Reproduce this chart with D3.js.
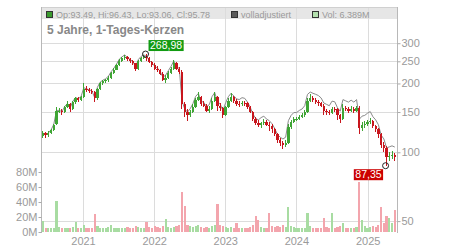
<!DOCTYPE html>
<html>
<head>
<meta charset="utf-8">
<script src="https://cdn.jsdelivr.net/npm/d3@7"></script>
<style>
  body { margin: 0; background: #fff; }
  svg { display: block; font-family: "Liberation Sans", Arial, sans-serif; }
</style>
</head>
<body>
<div id="chart"></div>
<script>
// time span of the chart (5 years)
const START = new Date(2020, 5, 2);
const END = new Date(2025, 5, 3);
const PERIOD_DAYS = 14;

// one candle per two weeks: [open, high, low, close]
const candles = [
  [118, 124, 115, 121], [121, 123, 116, 119], [119, 124, 117, 121], [121, 127, 120, 125], [125, 133, 124, 132],
  [133, 157, 131, 152], [152, 156, 148, 152], [152, 154, 145, 150], [150, 160, 148, 158], [158, 167, 156, 163],
  [163, 165, 150, 155], [155, 168, 153, 166], [166, 175, 163, 172], [172, 174, 166, 170], [170, 177, 168, 174],
  [174, 201, 172, 190], [190, 195, 183, 188], [188, 192, 181, 186], [186, 190, 179, 184], [184, 186, 166, 172],
  [172, 192, 170, 190], [190, 203, 188, 200], [200, 207, 197, 204], [204, 210, 200, 207], [207, 215, 203, 212],
  [212, 225, 210, 222], [222, 234, 220, 230], [230, 244, 228, 240], [240, 256, 238, 252], [252, 261, 248, 258],
  [258, 266, 254, 262], [262, 264, 252, 255], [255, 258, 246, 250], [250, 253, 241, 245], [245, 247, 226, 232],
  [232, 253, 230, 250], [250, 261, 248, 258], [258, 266, 255, 262], [262, 268.98, 252, 258], [258, 260, 245, 248],
  [248, 251, 236, 240], [240, 245, 228, 232], [232, 238, 224, 228], [228, 232, 217, 220], [220, 224, 206, 208],
  [208, 217, 200, 212], [212, 226, 209, 222], [222, 236, 220, 232], [232, 254, 230, 245], [245, 248, 230, 232],
  [232, 236, 221, 225], [225, 228, 154, 162], [162, 166, 143, 150], [150, 154, 137, 145], [145, 153, 143, 150],
  [150, 162, 148, 158], [158, 172, 156, 170], [170, 184, 168, 175], [175, 177, 160, 162], [162, 168, 158, 160],
  [160, 162, 150, 152], [152, 160, 148, 155], [155, 172, 153, 168], [168, 184, 166, 175], [175, 176, 152, 160],
  [160, 164, 152, 156], [156, 158, 141, 146], [146, 160, 144, 158], [158, 172, 156, 168], [168, 182, 166, 174],
  [174, 176, 164, 168], [168, 171, 160, 163], [163, 168, 158, 162], [162, 168, 159, 165], [165, 168, 160, 164],
  [164, 166, 155, 158], [158, 160, 148, 150], [150, 152, 137, 140], [140, 142, 131, 134], [134, 138, 129, 132],
  [132, 136, 128, 134], [134, 140, 132, 136], [136, 139, 130, 132], [132, 136, 124, 130], [130, 133, 122, 126],
  [126, 128, 118, 120], [120, 122, 110, 113], [113, 115, 106, 110], [110, 112, 103, 108], [108, 113, 105, 110],
  [110, 133, 109, 129], [129, 139, 127, 136], [136, 143, 134, 140], [140, 143, 137, 140], [140, 146, 138, 143],
  [143, 149, 141, 145], [145, 153, 143, 150], [150, 172, 149, 168], [168, 180, 166, 172], [172, 177, 166, 170],
  [170, 173, 163, 166], [166, 169, 160, 164], [164, 166, 157, 160], [160, 162, 145, 152], [152, 155, 146, 150],
  [150, 153, 145, 148], [148, 158, 147, 155], [155, 158, 150, 154], [154, 156, 138, 145], [145, 147, 134, 140],
  [140, 162, 139, 156], [156, 159, 151, 154], [154, 157, 148, 152], [152, 160, 150, 155], [155, 158, 149, 152],
  [152, 160, 150, 156], [156, 160, 120, 128], [128, 135, 124, 132], [132, 137, 128, 133], [133, 139, 130, 136],
  [136, 141, 133, 137], [137, 139, 128, 130], [130, 132, 123, 126], [126, 128, 116, 120], [120, 122, 104, 108],
  [108, 111, 100, 104], [104, 106, 87.35, 95], [95, 100, 92, 96], [96, 101, 93, 97], [97, 99, 92, 95.78]
];

// "volladjustiert" close, same periods
const adjusted = [
  121.4, 119.4, 121.4, 125.4, 132.4, 152.5, 152.5, 150.5, 158.5, 163.5,
  156.2, 167.3, 173.4, 171.4, 175.4, 191.5, 189.5, 187.5, 185.5, 173.4,
  192.5, 202.6, 206.7, 209.7, 214.8, 224.9, 233.0, 243.1, 255.3, 261.4,
  266.7, 259.6, 254.5, 249.4, 236.2, 254.5, 262.6, 266.7, 262.6, 252.5,
  246.0, 237.8, 233.7, 225.5, 213.2, 217.3, 227.6, 237.8, 251.1, 237.8,
  232.4, 167.3, 155.0, 149.8, 155.0, 163.2, 175.6, 180.8, 167.3, 165.3,
  158.4, 161.5, 175.1, 182.4, 166.7, 162.6, 152.1, 164.6, 175.1, 181.3,
  176.4, 171.2, 170.1, 173.3, 172.2, 165.9, 157.5, 147.0, 140.7, 138.6,
  141.8, 143.9, 139.7, 137.5, 133.3, 127.0, 119.6, 116.4, 114.3, 116.4,
  137.5, 145.0, 149.2, 149.2, 152.4, 154.6, 159.9, 179.1, 183.4, 181.2,
  179.3, 177.1, 172.8, 164.2, 162.0, 159.8, 167.4, 166.3, 156.6, 151.2,
  170.0, 167.9, 165.7, 169.0, 165.7, 170.0, 139.5, 143.9, 145.0, 148.2,
  150.7, 143.0, 138.6, 132.0, 118.8, 114.4, 104.5, 105.6, 106.7, 105.4
];

// volume in millions, same periods
const volumes = [
  15, 6, 5, 5, 6, 42, 7, 5, 6, 5,
  6, 7, 14, 5, 6, 9, 6, 5, 6, 24,
  8, 6, 5, 6, 7, 10, 6, 5, 6, 5,
  6, 7, 5, 6, 8, 7, 6, 6, 13, 7,
  6, 8, 7, 6, 8, 17, 7, 6, 7, 8,
  9, 53, 35, 10, 8, 7, 8, 9, 7, 6,
  7, 6, 8, 9, 38, 10, 8, 7, 6, 7,
  5, 12.5, 6, 5, 5, 6, 7, 10, 21, 16,
  7, 6, 6, 25, 8, 7, 8, 7, 9, 7,
  34, 8, 7, 6, 6, 5, 6, 25, 8, 6,
  5, 5, 6, 19, 7, 5, 26, 6, 7, 8,
  12, 6, 5, 5, 6, 7, 67, 15.6, 8, 6,
  7, 8, 7, 9, 33, 12, 21, 19, 12, 29
];

const priceTicks = [50, 100, 150, 200, 250, 300];
const volumeTicks = [0, 20, 40, 60, 80];
const lastQuote = { op: '93.49', hi: '96.43', lo: '93.06', cl: '95.78' };
const lastVolume = '6.389M';
const chartTitle = '5 Jahre, 1-Tages-Kerzen';

const W = 450, H = 250;
const plot = { left: 41.5, right: 397.5, top: 7, bottom: 232 };
const UP = '#3fa535', DOWN = '#c8161d';
const VOL_UP = '#a8dca2', VOL_DOWN = '#f3a5ad';
const GRID = '#dcdcdc', TEXT = '#9a9a9a';

const svg = d3.select('#chart').append('svg')
  .attr('width', W).attr('height', H);

const x = d3.scaleTime().domain([START, END]).range([plot.left, plot.right]);
const y = d3.scaleLog().domain([44.8, 432]).range([plot.bottom, plot.top]);
const v = d3.scaleLinear().domain([0, 300]).range([plot.bottom, plot.top]);

const dates = candles.map((_, i) => d3.timeDay.offset(START, 7 + PERIOD_DAYS * i));
const step = x(d3.timeDay.offset(START, PERIOD_DAYS)) - x(START);

// header band
svg.append('rect')
  .attr('x', plot.left).attr('y', plot.top)
  .attr('width', plot.right - plot.left + 0.5).attr('height', 12)
  .attr('fill', '#e6e6e6');

// grid
const years = x.ticks(d3.timeYear.every(1));
svg.append('g').selectAll('line').data(years).join('line')
  .attr('x1', d => Math.round(x(d)) + 0.5).attr('x2', d => Math.round(x(d)) + 0.5)
  .attr('y1', plot.top).attr('y2', plot.bottom)
  .attr('stroke', GRID);
svg.append('g').selectAll('line').data(priceTicks).join('line')
  .attr('x1', plot.left).attr('x2', plot.right)
  .attr('y1', d => Math.round(y(d)) + 0.5).attr('y2', d => Math.round(y(d)) + 0.5)
  .attr('stroke', GRID);

// frame
svg.append('line').attr('x1', plot.left).attr('x2', plot.right + 0.5)
  .attr('y1', plot.top + 0.5).attr('y2', plot.top + 0.5).attr('stroke', '#d0d0d0');
svg.append('line').attr('x1', plot.left).attr('x2', plot.left)
  .attr('y1', plot.top).attr('y2', plot.bottom + 1).attr('stroke', '#b8b8b8');
svg.append('line').attr('x1', plot.right).attr('x2', plot.right)
  .attr('y1', plot.top).attr('y2', plot.bottom + 1).attr('stroke', '#b8b8b8');

// volume bars
svg.append('g').attr('shape-rendering', 'crispEdges')
  .selectAll('rect').data(volumes).join('rect')
  .attr('x', (d, i) => x(dates[i]) - step * 0.4)
  .attr('width', step * 0.8)
  .attr('y', d => v(d))
  .attr('height', d => plot.bottom - v(d))
  .attr('fill', (d, i) => candles[i][3] >= candles[i][0] ? VOL_UP : VOL_DOWN);

// adjusted line
svg.append('path')
  .datum(adjusted)
  .attr('fill', 'none')
  .attr('stroke', '#8a8a8a')
  .attr('stroke-width', 1)
  .attr('d', d3.line().x((d, i) => x(dates[i])).y(d => y(d)));

// candles
const cg = svg.append('g').attr('shape-rendering', 'crispEdges')
  .selectAll('g').data(candles).join('g')
  .attr('fill', d => d[3] >= d[0] ? UP : DOWN)
  .attr('stroke', d => d[3] >= d[0] ? UP : DOWN);
cg.append('line')
  .attr('x1', (d, i) => x(dates[i])).attr('x2', (d, i) => x(dates[i]))
  .attr('y1', d => y(d[1])).attr('y2', d => y(d[2]));
cg.append('rect')
  .attr('stroke', 'none')
  .attr('x', (d, i) => x(dates[i]) - step * 0.42)
  .attr('width', step * 0.84)
  .attr('y', d => y(Math.max(d[0], d[3])))
  .attr('height', d => Math.max(1, Math.abs(y(d[0]) - y(d[3]))));

// high / low markers
const iMax = d3.maxIndex(candles, d => d[1]);
const iMin = d3.minIndex(candles, d => d[2]);
function marker(i, value, color, above) {
  const mx = x(dates[i]) - 1, my = y(value);
  svg.append('circle').attr('cx', mx).attr('cy', my).attr('r', 3)
    .attr('fill', 'none').attr('stroke', '#222').attr('stroke-width', 1);
  const label = d3.format('.2f')(value).replace('.', ',');
  const g = svg.append('g');
  const t = g.append('text').attr('font-size', 10.5).attr('fill', '#fff').text(label);
  const tw = t.node().getComputedTextLength();
  const bw = tw + 3, bh = 11;
  const bx = above ? mx + 3 : mx - 2.5 - bw;
  const by = above ? my - 3 - bh : my + 3.5;
  g.insert('rect', 'text').attr('x', bx).attr('y', by).attr('width', bw).attr('height', bh).attr('fill', color);
  t.attr('x', bx + 1.5).attr('y', by + bh - 2);
}
marker(iMax, candles[iMax][1], '#129b12', true);
marker(iMin, candles[iMin][2], '#cc0000', false);

// axes
const styleAxis = g => {
  g.select('.domain').remove();
  g.selectAll('line').attr('stroke', '#aaa');
  g.selectAll('text').attr('fill', TEXT).attr('font-size', 11).attr('font-family', '"Liberation Sans", Arial, sans-serif');
};
svg.append('g').attr('transform', `translate(${plot.right},0)`)
  .call(d3.axisRight(y).tickValues(priceTicks).tickFormat(d3.format('d')).tickSize(3).tickPadding(1))
  .call(styleAxis);
svg.append('g').attr('transform', `translate(${plot.left},0)`)
  .call(d3.axisLeft(v).tickValues(volumeTicks).tickFormat(d => d + 'M').tickSize(3).tickPadding(1))
  .call(styleAxis);
svg.append('g').attr('transform', `translate(0,${plot.bottom})`)
  .call(d3.axisBottom(x).tickValues(years).tickFormat(d3.timeFormat('%Y')).tickSize(0).tickPadding(5))
  .call(styleAxis);

// legend
const legend = [
  { x: 46.5, fill: '#3a9a2e', text: `Op:${lastQuote.op}, Hi:${lastQuote.hi}, Lo:${lastQuote.lo}, Cl:${lastQuote.cl}` },
  { x: 231.5, fill: '#5a5a5a', text: 'volladjustiert' },
  { x: 312.5, fill: '#b4e0ae', text: `Vol: ${lastVolume}` }
];
const lg = svg.append('g').selectAll('g').data(legend).join('g');
lg.append('rect').attr('x', d => d.x).attr('y', 11.5).attr('width', 6).attr('height', 6)
  .attr('fill', d => d.fill).attr('stroke', '#333').attr('stroke-width', 1);
lg.append('text').attr('x', d => d.x + 9.5).attr('y', 17.5)
  .attr('font-size', 9).attr('fill', TEXT).text(d => d.text);

svg.append('text').attr('x', 47).attr('y', 34)
  .attr('font-size', 12).attr('font-weight', 'bold').attr('fill', '#888')
  .text(chartTitle);
</script>
</body>
</html>
